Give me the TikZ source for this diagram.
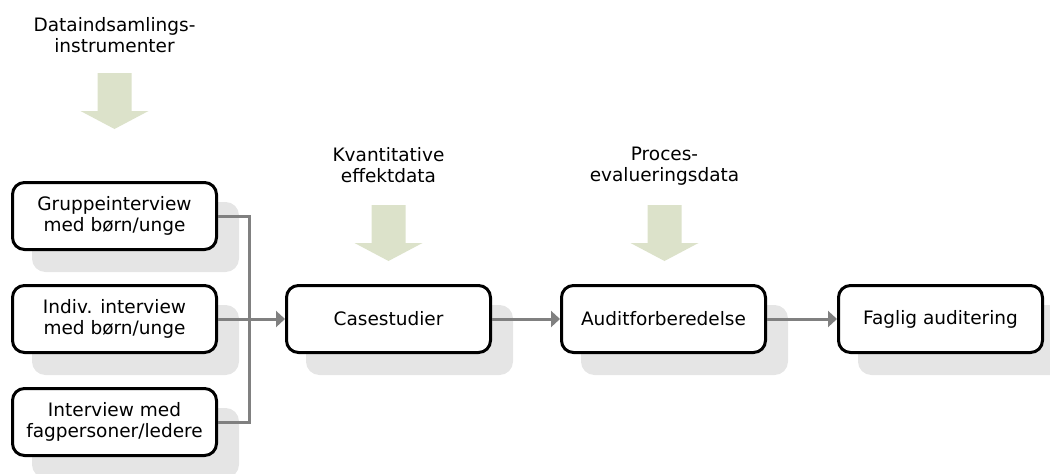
\documentclass[tikz,border=0pt]{standalone}
\usepackage{fontspec}
\setmainfont{DejaVu Sans}
\usepackage{xcolor}
\definecolor{shadowGray}{HTML}{E5E5E5}
\definecolor{lineGray}{HTML}{808080}
\definecolor{arrowGreen}{HTML}{DCE2CA}
\usepackage{tikz}
\usetikzlibrary{positioning,calc,arrows.meta,shadows}
\tikzset{%
  procBox/.style={%
    rectangle,
    rounded corners=12pt,
    draw=black,
    line width=3pt,
    fill=white,
    minimum width=204pt,
    minimum height=67pt,
    inner sep=0pt,
    align=center,
    font=\fontsize{18.5}{20.5}\selectfont,
    general shadow={fill=shadowGray, draw=shadowGray, line width=3pt,
      shadow xshift=21pt, shadow yshift=-21pt}
  },
  feedLabel/.style={%
    align=center,
    inner sep=0pt,
    font=\fontsize{18.5}{20.5}\selectfont
  },
  arrowLine/.style={%
    -{Triangle[length=9pt,width=16pt]},
    line width=3pt,
    color=lineGray
  },
  connLine/.style={%
    line width=3pt,
    color=lineGray
  }
}
% green input arrow, hanging down from a top point
\newcommand{\dataArrow}[1]{%
  \fill[arrowGreen] (#1) ++(-17,0) -- ++(34,0) -- ++(0,38) -- ++(17,0)
    -- ++(-34,18) -- ++(-34,-18) -- ++(17,0) -- cycle;}

\begin{document}
\begin{tikzpicture}[x=1pt,y=-1pt]
  \useasboundingbox (0,0) rectangle (1050,474);

  \node[procBox] (grpInt) at (114.5,216) {Gruppeinterview\\med børn/unge};
  \node[procBox, below=33pt of grpInt] (indInt) {Indiv. interview\\med børn/unge};
  \node[procBox, below=33pt of indInt] (fagInt) {Interview med\\fagpersoner/ledere};
  \node[procBox, right=67pt of indInt] (caseStud) {Casestudier};
  \node[procBox, right=68pt of caseStud] (auditPrep) {Auditforberedelse};
  \node[procBox, right=70pt of auditPrep] (fagAudit) {Faglig auditering};

  % input arrows with their labels
  \coordinate (instrTop) at ($(grpInt.north)+(0,-108)$);
  \coordinate (kvantTop) at ($(caseStud.north)+(0,-79)$);
  \coordinate (procTop) at ($(auditPrep.north)+(1,-79)$);
  \dataArrow{instrTop}
  \dataArrow{kvantTop}
  \dataArrow{procTop}
  \node[feedLabel] (instrLabel) at ($(instrTop)+(0,-38)$) {Dataindsamlings-\\instrumenter};
  \node[feedLabel] (kvantLabel) at ($(kvantTop)+(0,-40)$) {Kvantitative\\effektdata};
  \node[feedLabel] (procLabel) at ($(procTop)+(0,-39)$) {Proces-\\evalueringsdata};

  % connectors
  \coordinate (joinPt) at ($(grpInt.east)+(31,0)$);
  \draw[connLine] (grpInt.east) -- (joinPt) |- (fagInt.east);
  \draw[arrowLine] (indInt.east) -- (caseStud.west);
  \draw[arrowLine] (caseStud) -- (auditPrep);
  \draw[arrowLine] (auditPrep) -- (fagAudit);
\end{tikzpicture}
\end{document}
